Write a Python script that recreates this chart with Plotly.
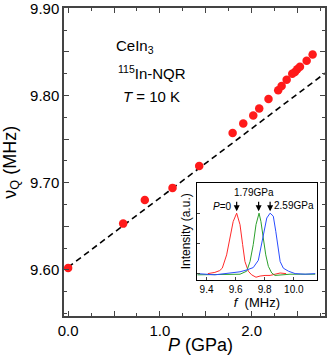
import plotly.graph_objects as go

# main panel: nu_Q vs pressure
pressure = [0.0, 0.600, 0.836, 1.138, 1.429, 1.793, 1.909, 2.018, 2.083, 2.184,
            2.290, 2.327, 2.382, 2.443, 2.472, 2.497, 2.527, 2.600, 2.665]
nu_q = [9.602, 9.653, 9.680, 9.694, 9.719, 9.757, 9.768, 9.777, 9.785, 9.796,
        9.806, 9.811, 9.818, 9.825, 9.827, 9.830, 9.833, 9.840, 9.847]

# linear fit (dashed)
fit_p = [0.0, 2.8]
fit_intercept = 9.603
fit_slope = 0.0795

x_tickvals = [0.0, 0.5, 1.0, 1.5, 2.0, 2.5]
x_ticktext = ["0.0", "", "1.0", "", "2.0", ""]
y_tickvals = [9.60, 9.65, 9.70, 9.75, 9.80, 9.85, 9.90]
y_ticktext = ["9.60", "", "9.70", "", "9.80", "", "9.90"]

# inset: NQR spectra
f_red = [9.409, 9.457, 9.490, 9.508, 9.538, 9.561, 9.583, 9.607, 9.630, 9.648,
         9.664, 9.687, 9.710, 9.740, 9.768, 9.802, 9.837, 9.871, 9.906, 9.947]
i_red = [0.00, 0.02, 0.05, 0.09, 0.31, 0.59, 0.86, 1.00, 0.81, 0.48,
         0.20, 0.04, -0.02, -0.06, -0.04, -0.03, -0.03, -0.01, 0.01, 0.00]

f_green = [9.337, 9.423, 9.526, 9.630, 9.676, 9.699, 9.721, 9.740, 9.761, 9.774,
           9.790, 9.807, 9.825, 9.848, 9.871, 9.917, 9.974, 10.043, 10.147]
i_green = [-0.02, -0.02, -0.01, -0.01, 0.04, 0.20, 0.48, 0.81, 1.00, 0.86,
           0.59, 0.31, 0.12, 0.01, -0.03, -0.02, -0.01, -0.01, -0.01]

f_blue = [9.337, 9.457, 9.561, 9.630, 9.676, 9.721, 9.756, 9.779, 9.797, 9.814,
          9.837, 9.859, 9.876, 9.890, 9.906, 9.928, 9.963, 10.009, 10.078, 10.147]
i_blue = [0.00, -0.02, 0.01, 0.03, 0.06, 0.10, 0.22, 0.48, 0.70, 0.92,
          1.00, 0.95, 0.70, 0.42, 0.20, 0.09, 0.04, 0.00, -0.01, 0.00]

peak_f = [9.607, 9.758, 9.837]
peak_labels = ["<i>P</i>=0", "1.79GPa", "2.59GPa"]

FONT = "Liberation Sans, Arial, sans-serif"

fig = go.Figure()

fig.add_trace(go.Scatter(
    x=fit_p, y=[fit_intercept + fit_slope * p for p in fit_p],
    mode="lines", line=dict(color="black", width=1.6, dash="6px,4px"),
    showlegend=False, hoverinfo="skip"))

fig.add_trace(go.Scatter(
    x=pressure, y=nu_q, mode="markers",
    marker=dict(color="#ff1a1a", size=8.5, line=dict(width=0)),
    showlegend=False))

for f, i, c in [(f_red, i_red, "#ff2a2a"), (f_green, i_green, "#2ca02c"), (f_blue, i_blue, "#2a4dff")]:
    fig.add_trace(go.Scatter(x=f, y=i, mode="lines", line=dict(color=c, width=1),
                             xaxis="x2", yaxis="y2", showlegend=False))

axis_common = dict(showline=True, linecolor="#444", mirror="ticks", ticks="inside",
                   showgrid=False, zeroline=False, tickcolor="#444", automargin=False,
                   ticklabeloverflow="allow")

fig.update_layout(
    width=327, height=363,
    margin=dict(l=64, r=2, t=8, b=47),
    paper_bgcolor="white", plot_bgcolor="white",
    font=dict(family=FONT, size=15, color="black"),
    xaxis=dict(range=[-0.045, 2.8], tickvals=x_tickvals, ticktext=x_ticktext,
               ticklen=5, linewidth=1.5,
               minor=dict(tickmode="linear", tick0=0, dtick=0.25, ticklen=3, ticks="inside", tickcolor="#444"),
               **axis_common),
    yaxis=dict(range=[9.547, 9.9004], tickvals=y_tickvals, ticktext=y_ticktext,
               ticklen=5, linewidth=1.5,
               minor=dict(tickmode="linear", tick0=9.6, dtick=0.025, ticklen=3, ticks="inside", tickcolor="#444"),
               **axis_common),
    xaxis2=dict(domain=[0.510, 0.968], anchor="y2", range=[9.335, 10.157],
                dtick=0.2, tick0=9.4, tickformat=".1f", ticklen=3, linewidth=1,
                tickfont=dict(size=10), automargin=False,
                title=dict(text="<i>f</i>  (MHz)", font=dict(size=13), standoff=2),
                showline=True, linecolor="black", mirror=True, ticks="inside",
                showgrid=False, zeroline=False),
    yaxis2=dict(domain=[0.118, 0.432], anchor="x2", range=[-0.1, 1.5],
                dtick=0.5, tick0=0, ticklen=3, linewidth=1, showticklabels=False,
                automargin=False,
                title=dict(text="Intensity (a.u.)", font=dict(size=12), standoff=2),
                showline=True, linecolor="black", mirror=True, ticks="inside",
                showgrid=False, zeroline=False),
)

# axis titles
fig.add_annotation(x=0.524, y=-0.094, xref="paper", yref="paper", text="<i>P</i> (GPa)",
                   showarrow=False, font=dict(size=18), yanchor="middle")
fig.add_annotation(x=-0.2045, y=0.5, xref="paper", yref="paper", text="ν<sub>Q</sub> (MHz)",
                   showarrow=False, font=dict(size=18), textangle=-90, xanchor="center")

fig.add_annotation(x=0.191, y=0.913, xref="paper", yref="paper", text="CeIn<sub>3</sub>",
                   showarrow=False, font=dict(size=15))
fig.add_annotation(x=0.198, y=0.829, xref="paper", yref="paper", text="<sup>115</sup>In-NQR",
                   showarrow=False, font=dict(size=15))
fig.add_annotation(x=0.218, y=0.747, xref="paper", yref="paper", text="<i>T</i> = 10 K",
                   showarrow=False, font=dict(size=15))

# arrows over spectrum peaks
for f in peak_f:
    fig.add_annotation(x=f, y=1.03, xref="x2", yref="y2", text="", showarrow=True,
                       arrowhead=2, arrowsize=1, arrowwidth=1.2, arrowcolor="black",
                       ax=0, ay=-11)

fig.add_annotation(x=peak_f[0], y=0.98, xref="x2", yref="y2", text=peak_labels[0],
                   showarrow=False, xanchor="right", xshift=-3, yanchor="bottom",
                   font=dict(size=10))
fig.add_annotation(x=peak_f[1], y=1.22, xref="x2", yref="y2", text=peak_labels[1],
                   showarrow=False, xanchor="center", xshift=-5, yanchor="bottom",
                   font=dict(size=10))
fig.add_annotation(x=peak_f[2], y=1.0, xref="x2", yref="y2", text=peak_labels[2],
                   showarrow=False, xanchor="left", xshift=2, yanchor="bottom",
                   font=dict(size=10))

fig.write_html("out.html", config={"displayModeBar": False},
               post_script="document.body.style.margin='0';")
